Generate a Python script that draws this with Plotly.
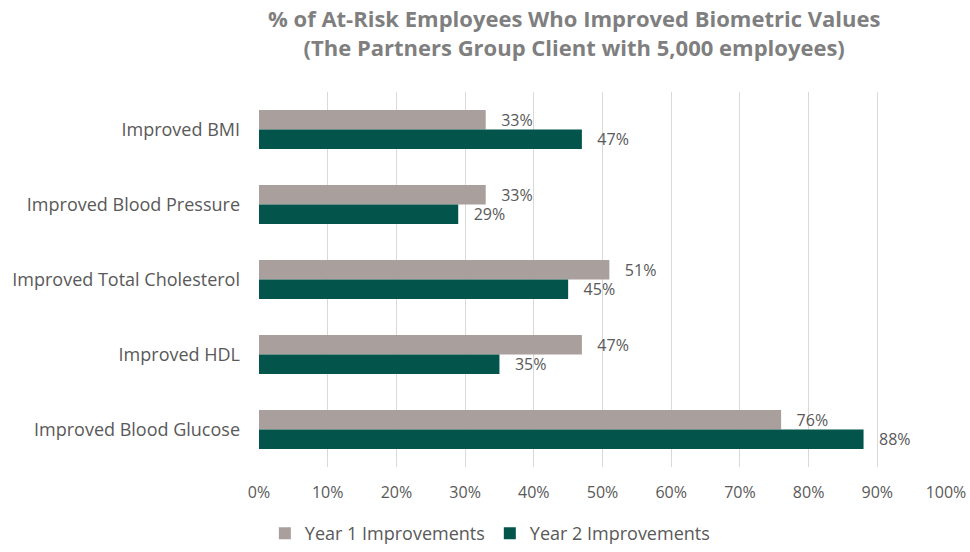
import plotly.graph_objects as go

categories = ["Improved BMI", "Improved Blood Pressure", "Improved Total Cholesterol",
              "Improved HDL", "Improved Blood Glucose"]
year1 = [33, 33, 51, 47, 76]
year2 = [47, 29, 45, 35, 88]
series_names = ["Year 1 Improvements", "Year 2 Improvements"]
colors = ["#A9A09D", "#03554B"]
tick_vals = [0, 10, 20, 30, 40, 50, 60, 70, 80, 90, 100]
tick_text = [f"{v}%" for v in tick_vals]

FONT = "'Open Sans', Lato, sans-serif"
TXT = "#595959"
PAD = "\u00a0\u00a0\u00a0"

fig = go.Figure()
for name, vals, col in zip(series_names, [year1, year2], colors):
    fig.add_trace(go.Bar(
        y=categories, x=vals, name=name, orientation="h",
        marker=dict(color=col, line=dict(width=0)),
        text=[f"{PAD}{v}%" for v in vals], textposition="outside",
        textfont=dict(size=16, color=TXT, family=FONT),
        constraintext="none",
        cliponaxis=False,
    ))

fig.update_layout(
    width=970, height=552,
    paper_bgcolor="white", plot_bgcolor="white",
    barmode="group", bargap=0.48, bargroupgap=0,
    margin=dict(l=259, r=24, t=92, b=85, autoexpand=False),
    font=dict(family=FONT, color=TXT, size=15),
    showlegend=True,
    legend=dict(orientation="h", x=0.505, xref="container", xanchor="center",
                y=0.0, yref="container", yanchor="bottom",
                font=dict(size=18, color=TXT), traceorder="normal",
                itemwidth=30),
    xaxis=dict(range=[0, 100], tickvals=tick_vals, ticktext=tick_text,
               showgrid=True, gridcolor="#D9D9D9", gridwidth=1,
               zeroline=False, showline=False, ticks="", ticklabelstandoff=14,
               tickfont=dict(size=16, color=TXT), fixedrange=True),
    yaxis=dict(autorange="reversed", showgrid=False, ticks="", showline=False,
               ticklabelstandoff=18, tickfont=dict(size=18, color=TXT)),
    annotations=[dict(
        text="<b>% of At-Risk Employees Who Improved Biometric Values<br>(The Partners Group Client with 5,000 employees)</b>",
        xref="paper", yref="paper", x=(574 - 259) / 687, y=1.0, yshift=91,
        xanchor="center", yanchor="top", showarrow=False,
        font=dict(size=22, color="#7F7F7F", family=FONT), align="center")],
)

fig.write_html("out.html")
